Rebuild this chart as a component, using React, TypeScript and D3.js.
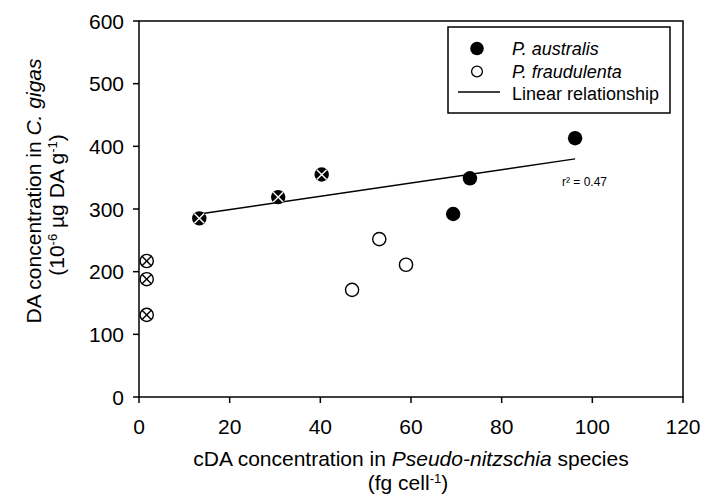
import React from "react";
import * as d3 from "d3";

const xTicks = [0, 20, 40, 60, 80, 100, 120];
const yTicks = [0, 100, 200, 300, 400, 500, 600];

const australisX = [13.3, 30.7, 40.3, 69.3, 73.0, 96.2];
const australisY = [285, 319, 355, 292, 349, 413];
const australisCrossed = [true, true, true, false, false, false];

const fraudulentaX = [1.7, 1.7, 1.7, 47.0, 53.0, 58.9];
const fraudulentaY = [217, 188, 131, 171, 252, 211];
const fraudulentaCrossed = [true, true, true, false, false, false];

const lineX = [13.3, 96.2];
const lineY = [292, 380];

const legendLabels = ["P. australis", "P. fraudulenta", "Linear relationship"];
const r2Label = "r² = 0.47";

const W = 702;
const H = 502;
const FONT = "'Liberation Sans', Arial, sans-serif";

export default function App() {
  const left = 139, right = 683, top = 21, bottom = 397;
  const x = d3.scaleLinear().domain([0, 120]).range([left, right]);
  const y = d3.scaleLinear().domain([0, 600]).range([bottom, top]);
  const R = 7.2;

  const line = d3
    .line<number>()
    .x((_, i) => x(lineX[i]))
    .y((d) => y(d));

  const cross = (cx: number, cy: number, color: string, k: string) => {
    const a = R * 0.68;
    return (
      <g key={k} stroke={color} strokeWidth={1.4}>
        <line x1={cx - a} y1={cy - a} x2={cx + a} y2={cy + a} />
        <line x1={cx - a} y1={cy + a} x2={cx + a} y2={cy - a} />
      </g>
    );
  };

  return (
    <svg
      width={W}
      height={H}
      style={{ position: "absolute", left: 0, top: 0, background: "#fff" }}
      fontFamily={FONT}
    >
      <rect x={0} y={0} width={W} height={H} fill="#fff" />
      {/* frame */}
      <rect
        x={left}
        y={top}
        width={right - left}
        height={bottom - top}
        fill="none"
        stroke="#000"
        strokeWidth={1.5}
      />
      {/* x ticks */}
      {xTicks.map((t) => (
        <g key={"xt" + t}>
          <line x1={x(t)} x2={x(t)} y1={bottom} y2={bottom + 6} stroke="#000" strokeWidth={1.5} />
          <text x={x(t)} y={434} textAnchor="middle" fontSize={21} fill="#000">
            {t}
          </text>
        </g>
      ))}
      {/* y ticks */}
      {yTicks.map((t) => (
        <g key={"yt" + t}>
          <line x1={left - 6} x2={left} y1={y(t)} y2={y(t)} stroke="#000" strokeWidth={1.5} />
          <text x={124} y={y(t) + 7.5} textAnchor="end" fontSize={21} fill="#000">
            {t}
          </text>
        </g>
      ))}
      {/* regression line */}
      <path d={line(lineY) || ""} fill="none" stroke="#000" strokeWidth={1.4} />
      {/* fraudulenta (open) */}
      {fraudulentaX.map((v, i) => (
        <g key={"f" + i}>
          <circle cx={x(v)} cy={y(fraudulentaY[i])} r={R - 0.6} fill="#fff" stroke="#000" strokeWidth={1.4} />
          {fraudulentaCrossed[i] ? cross(x(v), y(fraudulentaY[i]), "#000", "fc" + i) : null}
        </g>
      ))}
      {/* australis (filled) */}
      {australisX.map((v, i) => (
        <g key={"a" + i}>
          <circle cx={x(v)} cy={y(australisY[i])} r={R} fill="#000" />
          {australisCrossed[i] ? cross(x(v), y(australisY[i]), "#fff", "ac" + i) : null}
        </g>
      ))}
      <text x={562} y={186} fontSize={12} fill="#000">
        {r2Label}
      </text>
      {/* legend */}
      <rect x={448} y={27} width={222} height={86} fill="#fff" stroke="#000" strokeWidth={1.5} />
      <circle cx={477} cy={48.5} r={6.8} fill="#000" />
      <circle cx={477} cy={71.5} r={5.4} fill="#fff" stroke="#000" strokeWidth={1.3} />
      <line x1={458} x2={500} y1={92} y2={92} stroke="#000" strokeWidth={1.4} />
      <text x={512} y={55} fontSize={18} fontStyle="italic" fill="#000">
        {legendLabels[0]}
      </text>
      <text x={512} y={78} fontSize={18} fontStyle="italic" fill="#000">
        {legendLabels[1]}
      </text>
      <text x={512} y={100} fontSize={18} fill="#000">
        {legendLabels[2]}
      </text>
      {/* x title */}
      <text x={411} y={466} textAnchor="middle" fontSize={21} fill="#000">
        cDA concentration in <tspan fontStyle="italic">Pseudo-nitzschia</tspan> species
      </text>
      <text x={408} y={490} textAnchor="middle" fontSize={21} fill="#000">
        (fg cell<tspan fontSize={13} dy={-7}>-1</tspan>
        <tspan dy={7}>)</tspan>
      </text>
      {/* y title */}
      <text transform="translate(41,191) rotate(-90)" textAnchor="middle" fontSize={21} fill="#000">
        DA concentration in <tspan fontStyle="italic">C. gigas</tspan>
      </text>
      <text transform="translate(64,205) rotate(-90)" textAnchor="middle" fontSize={21} fill="#000">
        (10<tspan fontSize={13} dy={-7}>-6</tspan>
        <tspan dy={7}> µg DA g</tspan>
        <tspan fontSize={13} dy={-7}>-1</tspan>
        <tspan dy={7}>)</tspan>
      </text>
    </svg>
  );
}
